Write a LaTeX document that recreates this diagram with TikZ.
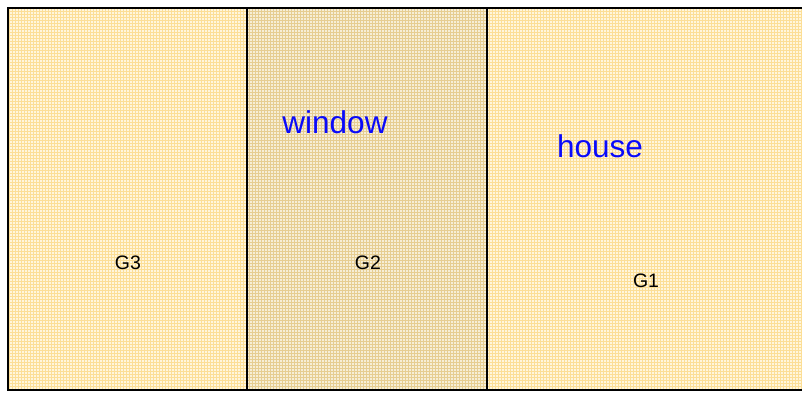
\documentclass[tikz,border=0pt]{standalone}
\usepackage{fontspec}
\setmainfont{Liberation Sans}
\usepackage{tikz}
\usetikzlibrary{positioning,patterns}
\usepackage{xcolor}
\definecolor{mypale}{RGB}{255,246,220}
\definecolor{mydark}{RGB}{246,238,214}
\definecolor{mygrid}{RGB}{252,222,150}
\definecolor{mygriddark}{RGB}{230,205,145}
\definecolor{myblue}{RGB}{10,10,250}

\begin{document}
\begin{tikzpicture}[x=1pt,y=-1pt]
  \useasboundingbox (0,0) rectangle (802,392);

  % Panels
  \fill[mypale] (8,8) rectangle (247,390);
  \fill[mydark] (247,8) rectangle (487,390);
  \fill[mypale] (487,8) rectangle (802,390);
  \fill[pattern=grid, pattern color=mygrid] (8,8) rectangle (247,390);
  \fill[pattern=grid, pattern color=mygriddark] (247,8) rectangle (487,390);
  \fill[pattern=grid, pattern color=mygrid] (487,8) rectangle (802,390);

  % Frame and dividers
  \draw[line width=2pt] (802,8) -- (8,8) -- (8,390) -- (802,390);
  \draw[line width=2pt] (247,8) -- (247,390);
  \draw[line width=2pt] (487,8) -- (487,390);

  % Group labels
  \node (g3) at (128,263) {\fontsize{19.5}{23}\selectfont G3};
  \node (g2) at (368,263) {\fontsize{19.5}{23}\selectfont G2};
  \node (g1) at (646,281) {\fontsize{19.5}{23}\selectfont G1};

  % Names
  \node[text=myblue] (window) at (335,122) {\fontsize{31.5}{37}\selectfont window};
  \node[text=myblue] (house) at (600,146) {\fontsize{31.5}{37}\selectfont house};
\end{tikzpicture}
\end{document}
